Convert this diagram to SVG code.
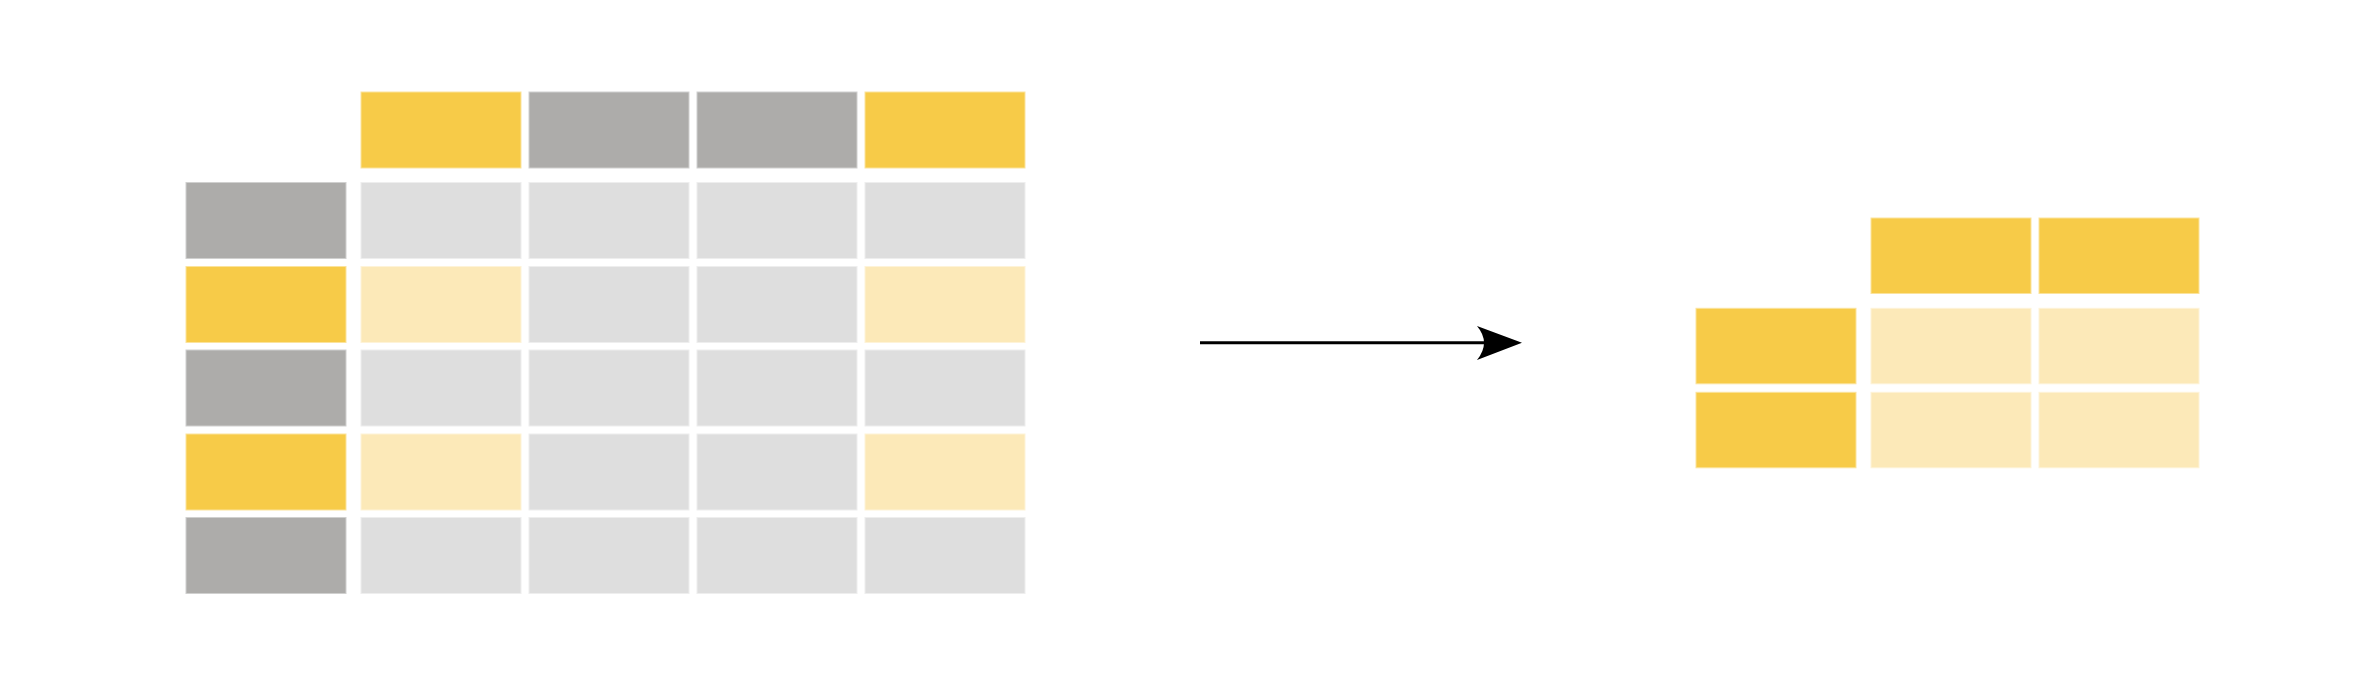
<svg xmlns="http://www.w3.org/2000/svg" width="2360" height="690" viewBox="0 0 2360 690">
<style>
.y{fill:#F7CB48;stroke:#FBE39C;stroke-width:1}
.g{fill:#ADACAA;stroke:#D0D0CF;stroke-width:1}
.lg{fill:#DEDEDE;stroke:#EEEEEE;stroke-width:1}
.ly{fill:#FCE9B8;stroke:#FEF3D8;stroke-width:1}
</style>
<rect width="2360" height="690" fill="#ffffff"/>
<g id="left-table">
<g id="col-headers">
<rect class="y" x="361" y="92" width="160" height="76"/>
<rect class="g" x="529" y="92" width="160" height="76"/>
<rect class="g" x="697" y="92" width="160" height="76"/>
<rect class="y" x="865" y="92" width="160" height="76"/>
</g>
<g id="row-headers">
<rect class="g" x="186" y="182.5" width="160" height="76"/>
<rect class="y" x="186" y="266.5" width="160" height="76"/>
<rect class="g" x="186" y="350" width="160" height="76"/>
<rect class="y" x="186" y="434" width="160" height="76"/>
<rect class="g" x="186" y="517.5" width="160" height="76"/>
</g>
<g id="cells">
<rect class="lg" x="361" y="182.5" width="160" height="76"/>
<rect class="lg" x="529" y="182.5" width="160" height="76"/>
<rect class="lg" x="697" y="182.5" width="160" height="76"/>
<rect class="lg" x="865" y="182.5" width="160" height="76"/>
<rect class="ly" x="361" y="266.5" width="160" height="76"/>
<rect class="lg" x="529" y="266.5" width="160" height="76"/>
<rect class="lg" x="697" y="266.5" width="160" height="76"/>
<rect class="ly" x="865" y="266.5" width="160" height="76"/>
<rect class="lg" x="361" y="350" width="160" height="76"/>
<rect class="lg" x="529" y="350" width="160" height="76"/>
<rect class="lg" x="697" y="350" width="160" height="76"/>
<rect class="lg" x="865" y="350" width="160" height="76"/>
<rect class="ly" x="361" y="434" width="160" height="76"/>
<rect class="lg" x="529" y="434" width="160" height="76"/>
<rect class="lg" x="697" y="434" width="160" height="76"/>
<rect class="ly" x="865" y="434" width="160" height="76"/>
<rect class="lg" x="361" y="517.5" width="160" height="76"/>
<rect class="lg" x="529" y="517.5" width="160" height="76"/>
<rect class="lg" x="697" y="517.5" width="160" height="76"/>
<rect class="lg" x="865" y="517.5" width="160" height="76"/>
</g>
</g>
<g id="connectors">
<line x1="1200" y1="342.7" x2="1490" y2="342.7" stroke="#000" stroke-width="3"/>
<path d="M1522,342.7 L1477,326 Q1491,342.7 1477,360 Z" fill="#000"/>
</g>
<g id="right-table">
<rect class="y" x="1871" y="218" width="160" height="75.5"/>
<rect class="y" x="2039" y="218" width="160" height="75.5"/>
<rect class="y" x="1696" y="308.3" width="160" height="75.5"/>
<rect class="ly" x="1871" y="308.3" width="160" height="75.5"/>
<rect class="ly" x="2039" y="308.3" width="160" height="75.5"/>
<rect class="y" x="1696" y="392.3" width="160" height="75.5"/>
<rect class="ly" x="1871" y="392.3" width="160" height="75.5"/>
<rect class="ly" x="2039" y="392.3" width="160" height="75.5"/>
</g>
</svg>
